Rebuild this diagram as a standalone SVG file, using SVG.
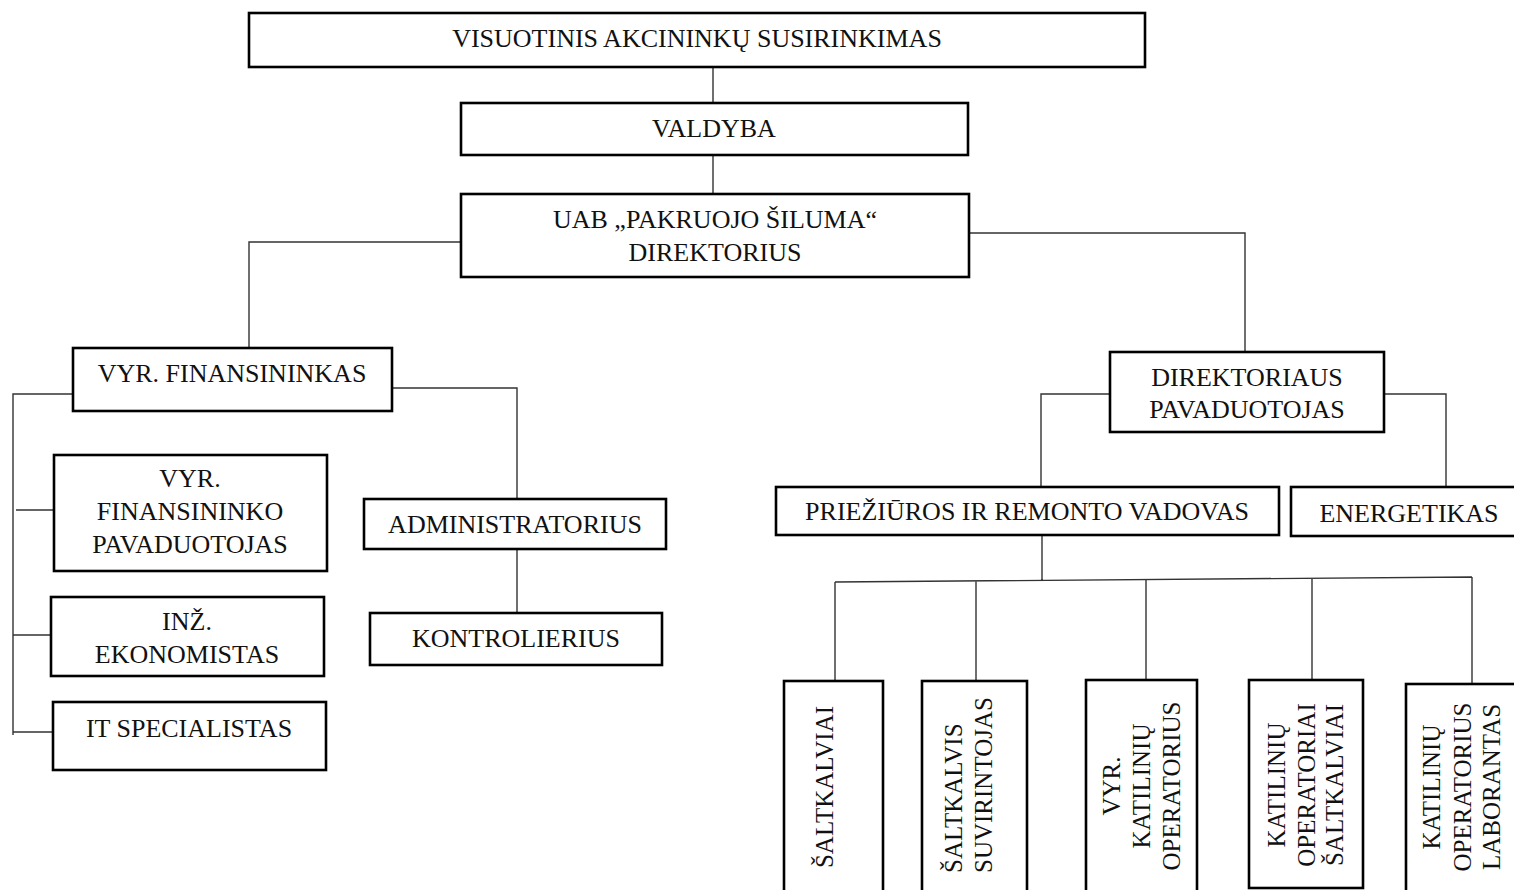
<svg xmlns="http://www.w3.org/2000/svg" width="1514" height="890" viewBox="0 0 1514 890">
<style>
.box{fill:#fff;stroke:#000;stroke-width:2.6}
.t{font-family:"Liberation Serif","Times New Roman",serif;font-size:26px;fill:#111;text-anchor:middle}
.v{font-family:"Liberation Serif","Times New Roman",serif;font-size:25px;fill:#111;text-anchor:middle}
.vs{text-anchor:start}
.c{fill:none;stroke:#333;stroke-width:1.4}
</style>
<rect width="1514" height="890" fill="#fff"/>
<g id="connectors">
<path class="c" d="M713 67V103M713 155V194"/>
<path class="c" d="M461 242H249V348"/>
<path class="c" d="M969 233H1245V352"/>
<path class="c" d="M73 394H13V735M16 510H54M13 635H51M13 732H53"/>
<path class="c" d="M392 388H517V499M517 549V613"/>
<path class="c" d="M1110 394H1041V487M1384 394H1446V487"/>
<path class="c" d="M1042 535V580M835 582L1472 577M835 582V681M976 581V681M1146 580V680M1312 578V680M1472 577V684"/>
</g>
<g id="n1"><rect class="box" x="249" y="13" width="896" height="54"/><text class="t" x="697" y="47">VISUOTINIS AKCININKŲ SUSIRINKIMAS</text></g>
<g id="n2"><rect class="box" x="461" y="103" width="507" height="52"/><text class="t" x="714" y="137">VALDYBA</text></g>
<g id="n3"><rect class="box" x="461" y="194" width="508" height="83"/><text class="t" x="715" y="228">UAB „PAKRUOJO ŠILUMA“</text><text class="t" x="715" y="261">DIREKTORIUS</text></g>
<g id="n4"><rect class="box" x="73" y="348" width="319" height="63"/><text class="t" x="232" y="382">VYR. FINANSININKAS</text></g>
<g id="n5"><rect class="box" x="54" y="455" width="273" height="116"/><text class="t" x="190" y="487">VYR.</text><text class="t" x="190" y="520">FINANSININKO</text><text class="t" x="190" y="553">PAVADUOTOJAS</text></g>
<g id="n6"><rect class="box" x="51" y="597" width="273" height="79"/><text class="t" x="187" y="630">INŽ.</text><text class="t" x="187" y="663">EKONOMISTAS</text></g>
<g id="n7"><rect class="box" x="53" y="702" width="273" height="68"/><text class="t" x="189" y="737">IT SPECIALISTAS</text></g>
<g id="n8"><rect class="box" x="364" y="499" width="302" height="50"/><text class="t" x="515" y="533">ADMINISTRATORIUS</text></g>
<g id="n9"><rect class="box" x="370" y="613" width="292" height="52"/><text class="t" x="516" y="647">KONTROLIERIUS</text></g>
<g id="n10"><rect class="box" x="1110" y="352" width="274" height="80"/><text class="t" x="1247" y="386">DIREKTORIAUS</text><text class="t" x="1247" y="418">PAVADUOTOJAS</text></g>
<g id="n11"><rect class="box" x="776" y="487" width="503" height="48"/><text class="t" x="1027" y="520">PRIEŽIŪROS IR REMONTO VADOVAS</text></g>
<g id="n12"><rect class="box" x="1291" y="487" width="240" height="49"/><text class="t" x="1409" y="522">ENERGETIKAS</text></g>
<g id="n13"><rect class="box" x="784" y="681" width="99" height="220"/><text class="v" transform="translate(833,787) rotate(-90)">ŠALTKALVIAI</text></g>
<g id="n14"><rect class="box" x="922" y="681" width="105" height="220"/><text class="v vs" transform="translate(962,873) rotate(-90)">ŠALTKALVIS</text><text class="v vs" transform="translate(992,873) rotate(-90)">SUVIRINTOJAS</text></g>
<g id="n15"><rect class="box" x="1086" y="680" width="111" height="220"/><text class="v" transform="translate(1120,786) rotate(-90)">VYR.</text><text class="v" transform="translate(1150,786) rotate(-90)">KATILINIŲ</text><text class="v" transform="translate(1180,786) rotate(-90)">OPERATORIUS</text></g>
<g id="n16"><rect class="box" x="1249" y="680" width="114" height="208"/><text class="v" transform="translate(1285,785) rotate(-90)">KATILINIŲ</text><text class="v" transform="translate(1315,785) rotate(-90)">OPERATORIAI</text><text class="v" transform="translate(1343,785) rotate(-90)">ŠALTKALVIAI</text></g>
<g id="n17"><rect class="box" x="1406" y="684" width="120" height="220"/><text class="v" transform="translate(1440,787) rotate(-90)">KATILINIŲ</text><text class="v" transform="translate(1471,787) rotate(-90)">OPERATORIUS</text><text class="v" transform="translate(1500,787) rotate(-90)">LABORANTAS</text></g>
</svg>
